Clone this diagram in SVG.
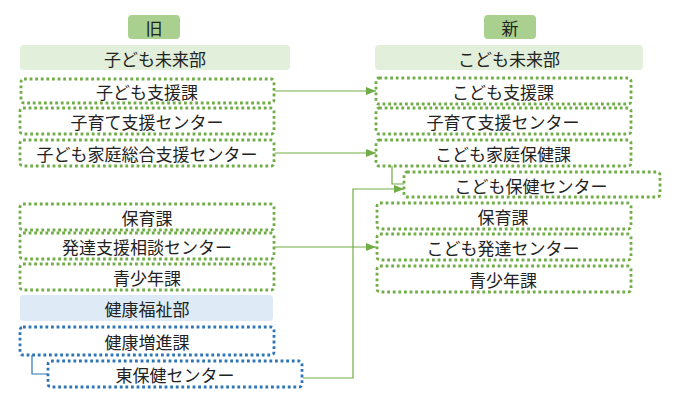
<svg xmlns="http://www.w3.org/2000/svg" width="674" height="406" viewBox="0 0 674 406">
<style>
text{font-family:"Noto Sans CJK JP","Noto Sans CJK SC",sans-serif;font-size:17px;fill:#222;text-anchor:middle;dominant-baseline:central}
.g{fill:#fff;stroke:#70ad47;stroke-width:2.8;stroke-dasharray:2.8 2.8}
.b{fill:#fff;stroke:#2e75b6;stroke-width:2.8;stroke-dasharray:2.8 2.8}
.c{fill:none;stroke:#70ad47;stroke-width:1.2}
</style>
<defs><marker id="a" markerWidth="10" markerHeight="8" refX="10" refY="4" orient="auto" markerUnits="userSpaceOnUse"><path d="M0,0L10,4L0,8z" fill="#70ad47"/></marker></defs>
<g id="old-label"><rect x="128" y="15" width="52" height="24" rx="4" fill="#a9d08e"/><text x="154" y="27">旧</text></g>
<g id="new-label"><rect x="484" y="15" width="52" height="24" rx="4" fill="#a9d08e"/><text x="510" y="27">新</text></g>
<g id="old-dept"><rect x="20" y="45" width="270" height="25" rx="4" fill="#e2efda"/><text x="155" y="58">子ども未来部</text></g>
<g id="new-dept"><rect x="375" y="45" width="268" height="25" rx="4" fill="#e2efda"/><text x="509" y="58">こども未来部</text></g>
<g id="o1"><rect class="g" x="21" y="79" width="253" height="24" rx="3"/><text x="147" y="91">子ども支援課</text></g>
<g id="o2"><rect class="g" x="20" y="108" width="254" height="26" rx="3"/><text x="147" y="121">子育て支援センター</text></g>
<g id="o3"><rect class="g" x="20" y="140" width="254" height="26" rx="3"/><text x="147" y="153">子ども家庭総合支援センター</text></g>
<g id="o4"><rect class="g" x="20" y="204" width="254" height="26" rx="3"/><text x="147" y="217">保育課</text></g>
<g id="o5"><rect class="g" x="20" y="233" width="254" height="26" rx="3"/><text x="147" y="246">発達支援相談センター</text></g>
<g id="o6"><rect class="g" x="20" y="264" width="254" height="26" rx="3"/><text x="147" y="277">青少年課</text></g>
<g id="old-dept2"><rect x="20" y="295" width="253" height="26" rx="4" fill="#deebf7"/><text x="147" y="308">健康福祉部</text></g>
<g id="o7"><rect class="b" x="20" y="327" width="254" height="28" rx="3"/><text x="147" y="341">健康増進課</text></g>
<g id="o8"><rect class="b" x="48" y="361" width="254" height="26" rx="3"/><text x="175" y="374">東保健センター</text></g>
<g id="n1"><rect class="g" x="376" y="78" width="255" height="26" rx="3"/><text x="503" y="91">こども支援課</text></g>
<g id="n2"><rect class="g" x="376" y="108" width="255" height="26" rx="3"/><text x="503" y="121">子育て支援センター</text></g>
<g id="n3"><rect class="g" x="376" y="140" width="255" height="26" rx="3"/><text x="503" y="153">こども家庭保健課</text></g>
<g id="n4"><rect class="g" x="404" y="172" width="256" height="25" rx="3"/><text x="531" y="185">こども保健センター</text></g>
<g id="n5"><rect class="g" x="377" y="203" width="254" height="26" rx="3"/><text x="503" y="216">保育課</text></g>
<g id="n6"><rect class="g" x="377" y="234" width="254" height="26" rx="3"/><text x="503" y="247">こども発達センター</text></g>
<g id="n7"><rect class="g" x="377" y="266" width="254" height="26" rx="3"/><text x="503" y="279">青少年課</text></g>
<g id="connectors">
<path class="c" d="M275,91H376" marker-end="url(#a)"/>
<path class="c" d="M275,153H376" marker-end="url(#a)"/>
<path class="c" d="M275,247H376" marker-end="url(#a)"/>
<path class="c" d="M303,378H353V189H404" marker-end="url(#a)"/>
<path class="c" d="M392,166V184H404"/>
<path fill="none" stroke="#2e75b6" stroke-width="1.2" d="M32,355V374H48"/>
</g>
</svg>
